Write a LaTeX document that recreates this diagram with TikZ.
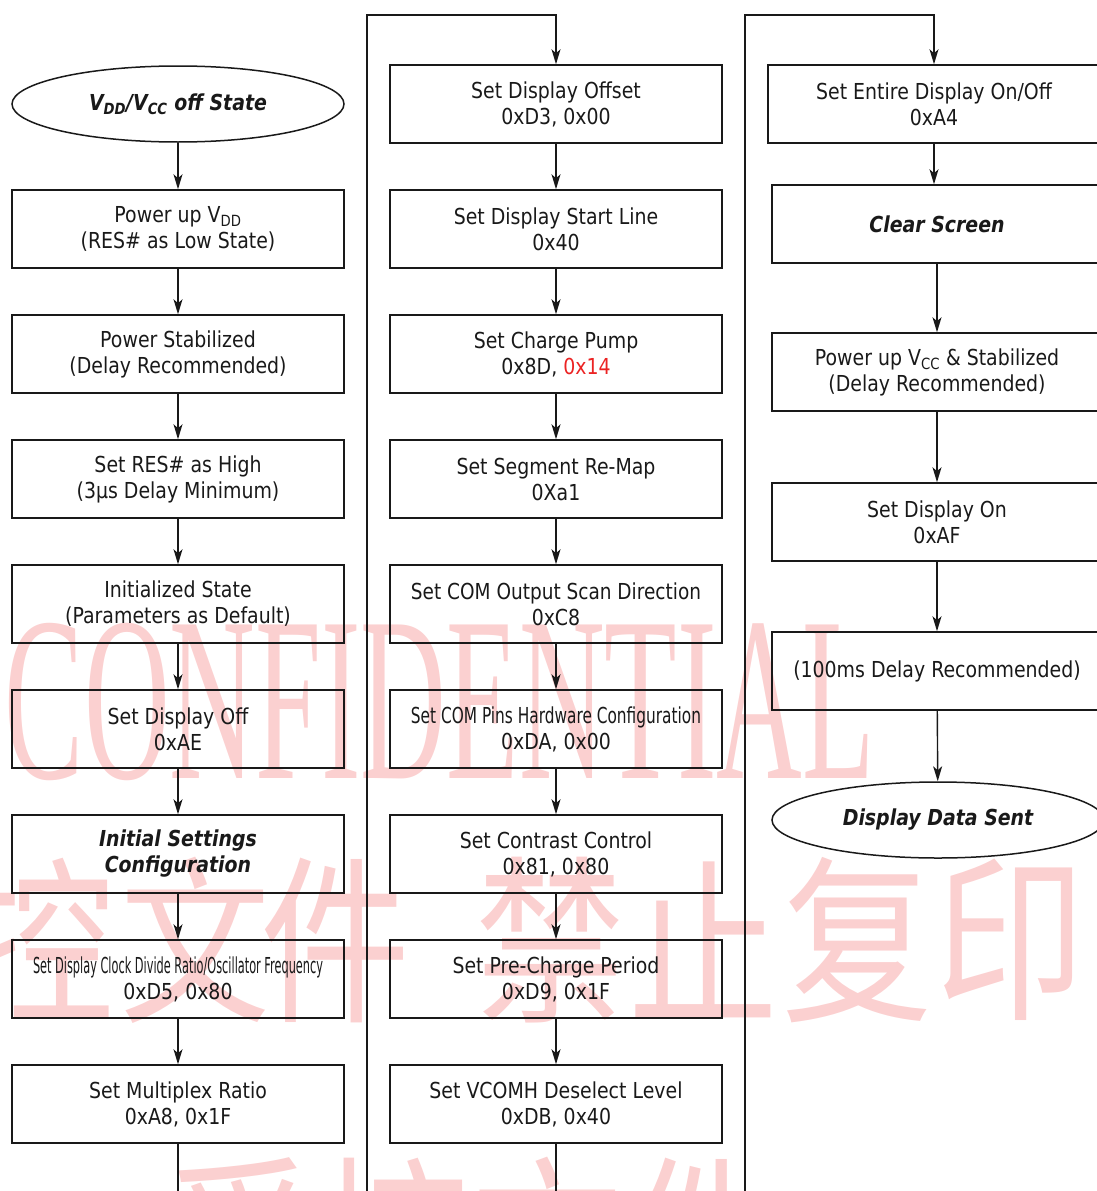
\documentclass[tikz,border=0pt]{standalone}
\usepackage{fontspec}
\setmainfont{DejaVu Sans}[FakeStretch=0.86]
\newfontfamily\wmfont{Liberation Serif}
\newfontfamily\cjk{Noto Sans CJK SC}
\usetikzlibrary{shapes.geometric,arrows.meta}
\definecolor{txt}{RGB}{25,25,25}
\definecolor{wm}{RGB}{251,208,208}
\definecolor{hl}{RGB}{235,35,35}
\newcommand\sz{\fontsize{22}{26}\selectfont}
\newcommand\narrow[1]{\resizebox{290pt}{\height}{#1}}
\newcommand\cjkwm[1]{\scalebox{1}[1.2]{\cjk\fontsize{150}{150}\selectfont #1}}
\begin{document}
\begin{tikzpicture}[x=1pt,y=-1pt,
  box/.style={draw=black!90, line width=1.5pt, minimum width=332pt, minimum height=78pt, inner sep=0pt, align=center, text=txt, font=\sz},
  oval/.style={ellipse, draw=black!90, line width=1.5pt, minimum width=332pt, minimum height=76pt, inner sep=0pt, align=center, text=txt, font=\sz\bfseries\itshape},
  arr/.style={draw=black!90, line width=1.4pt, -{Stealth[length=15pt,width=9pt,inset=4pt]}},
  ln/.style={draw=black!90, line width=1.4pt},
  wmk/.style={text=wm, inner sep=0pt}]
\useasboundingbox (0,0) rectangle (1097,1191);
\clip (0,0) rectangle (1097,1191);
% watermark
\node[wmk] (w1) at (440,702) {\resizebox{870pt}{155pt}{\wmfont CONFIDENTIAL}};
\node[wmk] (w2) at (40,940) {\cjkwm{控}};
\node[wmk] (w3) at (195,940) {\cjkwm{文}};
\node[wmk] (w4) at (335,940) {\cjkwm{件}};
\node[wmk] (w5) at (550,940) {\cjkwm{禁}};
\node[wmk] (w6) at (703,940) {\cjkwm{止}};
\node[wmk] (w7) at (857,940) {\cjkwm{复}};
\node[wmk] (w8) at (1010,940) {\cjkwm{印}};
\node[wmk] (w9) at (241,1240) {\cjkwm{受}};
\node[wmk] (w10) at (394,1240) {\cjkwm{控}};
\node[wmk] (w11) at (547,1240) {\cjkwm{文}};
\node[wmk] (w12) at (700,1240) {\cjkwm{件}};
% column 1
\node[oval] (a0) at (178,104) {V\textsubscript{DD}/V\textsubscript{CC} off State};
\node[box] (a1) at (178,229) {Power up V\textsubscript{DD}\\(RES\# as Low State)};
\node[box] (a2) at (178,354) {Power Stabilized\\(Delay Recommended)};
\node[box] (a3) at (178,479) {Set RES\# as High\\(3μs Delay Minimum)};
\node[box] (a4) at (178,604) {Initialized State\\(Parameters as Default)};
\node[box] (a5) at (178,729) {Set Display Off\\0xAE};
\node[box, font=\sz\bfseries\itshape] (a6) at (178,854) {Initial Settings\\Configuration};
\node[box] (a7) at (178,979) {\narrow{Set Display Clock Divide Ratio/Oscillator Frequency}\\0xD5, 0x80};
\node[box] (a8) at (178,1104) {Set Multiplex Ratio\\0xA8, 0x1F};
% column 2
\node[box] (b1) at (556,104) {Set Display Offset\\0xD3, 0x00};
\node[box] (b2) at (556,229) {Set Display Start Line\\0x40};
\node[box] (b3) at (556,354) {Set Charge Pump\\0x8D, \textcolor{hl}{0x14}};
\node[box] (b4) at (556,479) {Set Segment Re-Map\\0Xa1};
\node[box] (b5) at (556,604) {\narrow{Set COM Output Scan Direction}\\0xC8};
\node[box] (b6) at (556,729) {\narrow{Set COM Pins Hardware Configuration}\\0xDA, 0x00};
\node[box] (b7) at (556,854) {Set Contrast Control\\0x81, 0x80};
\node[box] (b8) at (556,979) {Set Pre-Charge Period\\0xD9, 0x1F};
\node[box] (b9) at (556,1104) {Set VCOMH Deselect Level\\0xDB, 0x40};
% column 3
\node[box] (c1) at (934,104) {Set Entire Display On/Off\\0xA4};
\node[box, minimum width=330pt, font=\sz\bfseries\itshape] (c2) at (937,224) {Clear Screen};
\node[box, minimum width=330pt] (c3) at (937,372) {Power up V\textsubscript{CC} \& Stabilized\\(Delay Recommended)};
\node[box, minimum width=330pt] (c4) at (937,522) {Set Display On\\0xAF};
\node[box, minimum width=330pt] (c5) at (937,671) {(100ms Delay Recommended)};
\node[oval] (c6) at (938,820) {Display Data Sent};
% connectors column 1
\draw[arr] (a0) -- (a1);
\draw[arr] (a1) -- (a2);
\draw[arr] (a2) -- (a3);
\draw[arr] (a3) -- (a4);
\draw[arr] (a4) -- (a5);
\draw[arr] (a5) -- (a6);
\draw[arr] (a6) -- (a7);
\draw[arr] (a7) -- (a8);
\coordinate (ea) at (178,1200);
\draw[ln] (a8) -- (ea);
% column 2
\coordinate (lb1) at (367,1200);
\coordinate (lt1) at (367,15);
\draw[arr] (lb1) -- (lt1) -| (b1.north);
\draw[arr] (b1) -- (b2);
\draw[arr] (b2) -- (b3);
\draw[arr] (b3) -- (b4);
\draw[arr] (b4) -- (b5);
\draw[arr] (b5) -- (b6);
\draw[arr] (b6) -- (b7);
\draw[arr] (b7) -- (b8);
\draw[arr] (b8) -- (b9);
\coordinate (eb) at (556,1200);
\draw[ln] (b9) -- (eb);
% column 3
\coordinate (lb2) at (745,1200);
\coordinate (lt2) at (745,15);
\draw[arr] (lb2) -- (lt2) -| (c1.north);
\draw[arr] (c1.south) -- (c1.south |- c2.north);
\draw[arr] (c2) -- (c3);
\draw[arr] (c3) -- (c4);
\draw[arr] (c4) -- (c5);
\draw[arr] (c5) -- (c6);
\end{tikzpicture}
\end{document}
